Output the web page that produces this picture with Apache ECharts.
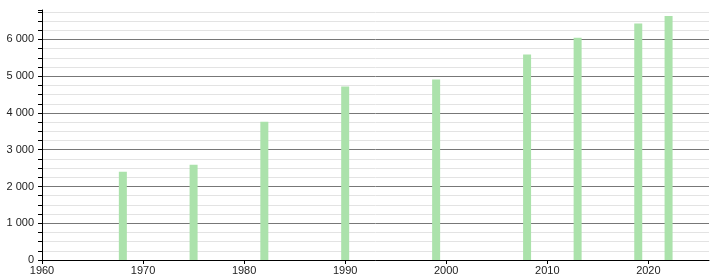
<!DOCTYPE html>
<html><head><meta charset="utf-8">
<script src="https://cdn.jsdelivr.net/npm/echarts@6/dist/echarts.min.js"></script>
<style>html,body{margin:0;padding:0;background:#fff}#c{width:720px;height:280px}</style>
</head><body><div id="c"></div>
<script>
const years = [1968, 1975, 1982, 1990, 1999, 2008, 2013, 2019, 2022];
const population = [2400, 2590, 3760, 4720, 4910, 5590, 6045, 6435, 6635];

const chart = echarts.init(document.getElementById('c'), null, {renderer: 'canvas'});
const fmt = v => String(v).replace(/\B(?=(\d{3})+(?!\d))/g, ' ');
chart.setOption({
  animation: false,
  grid: {left: 42, right: 11, top: 10, bottom: 20, containLabel: false},
  xAxis: {
    type: 'value', min: 1960, max: 2026, interval: 10,
    axisLine: {show: true, lineStyle: {color: '#000', width: 1}},
    axisTick: {show: true, length: 4, lineStyle: {color: '#000'}},
    axisLabel: {color: '#222', fontSize: 11, fontFamily: 'Liberation Sans, Arial, sans-serif', margin: 5,
      showMaxLabel: false, formatter: v => String(v)},
    splitLine: {show: false}
  },
  yAxis: {
    type: 'value', min: 0, max: 6800, interval: 250,
    axisLine: {show: true, onZero: false, lineStyle: {color: '#000', width: 1}},
    axisTick: {show: true, length: 4, lineStyle: {color: '#000'}},
    axisLabel: {color: '#222', fontSize: 11, fontFamily: 'Liberation Sans, Arial, sans-serif', margin: 8,
      formatter: v => (v % 1000 === 0 ? fmt(v) : '')},
    splitLine: {show: true, showMaxLine: false,
      lineStyle: {color: ['#777', '#e3e3e3', '#e3e3e3', '#e3e3e3'], width: 1}}
  },
  series: [{
    type: 'bar',
    data: years.map((y, i) => [y, population[i]]),
    barWidth: 8,
    itemStyle: {color: '#abe2ab'}
  }]
});
</script></body></html>
